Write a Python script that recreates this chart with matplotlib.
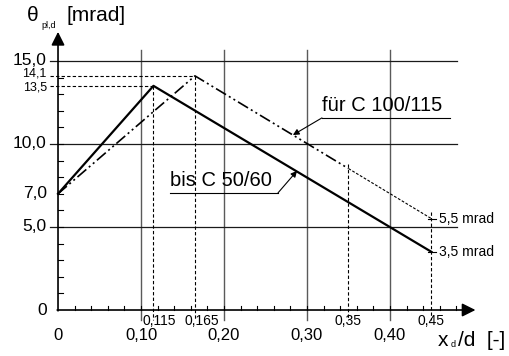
import numpy as np
import matplotlib.pyplot as plt

plt.rcParams['font.family'] = ['Liberation Sans', 'DejaVu Sans']

# data: rotation capacity theta_pl,d over x_d/d
x_c50 = [0.0, 0.115, 0.45]
y_c50 = [7.0, 13.5, 3.5]
x_c100 = [0.0, 0.165, 0.45]
y_c100 = [7.0, 14.1, 5.5]
x_split = 0.35  # dash-dot ends here, thin dashed afterwards

x_grid = [0.10, 0.20, 0.30, 0.40]
y_grid = [5.0, 10.0, 15.0]
x_major_labels = ["0", "0,10", "0,20", "0,30", "0,40"]
y_labels = {15.0: "15,0", 10.0: "10,0", 7.0: "7,0", 5.0: "5,0", 0.0: "0"}
y_small_labels = {14.1: "14,1", 13.5: "13,5"}


def main():
    fig = plt.figure(figsize=(5.10, 3.56), dpi=100)
    ax = fig.add_axes([0, 0, 1, 1])
    ax.set_xlim(-0.0699, 0.5446)
    ax.set_ylim(-2.77, 18.67)
    ax.axis("off")

    # grid
    for xv in x_grid:
        ax.plot([xv, xv], [-0.6, 15.66], color="#5a5a5a", lw=1.0)
    for yv in y_grid:
        ax.plot([-0.0096, 0.481], [yv, yv], color="#1a1a1a", lw=0.9)

    # minor ticks
    for yv in range(1, 15):
        ax.plot([0, 0.006], [yv, yv], color="k", lw=0.8)
    for xv in np.arange(0.02, 0.49, 0.02):
        ax.plot([xv, xv], [0, 0.25], color="k", lw=0.8)

    # axes with arrows
    ax.annotate("", xy=(0, 16.75), xytext=(0, -0.05),
                arrowprops=dict(arrowstyle="-|>", mutation_scale=20, lw=1.2,
                                color="k", shrinkA=0, shrinkB=0))
    ax.annotate("", xy=(0.503, 0), xytext=(-0.001, 0),
                arrowprops=dict(arrowstyle="-|>", mutation_scale=20, lw=1.2,
                                color="k", shrinkA=0, shrinkB=0))

    # helper lines (dashed)
    dash = dict(color="k", lw=0.8, ls=(0, (3, 2)))
    ax.plot([-0.0096, x_c100[1]], [y_c100[1], y_c100[1]], **dash)
    ax.plot([-0.0096, x_c50[1]], [y_c50[1], y_c50[1]], **dash)
    ax.plot([x_c50[1], x_c50[1]], [y_c50[1], -0.6], **dash)
    ax.plot([x_c100[1], x_c100[1]], [y_c100[1], -0.6], **dash)
    y_split = np.interp(x_split, x_c100, y_c100)
    ax.plot([x_split, x_split], [y_split + 0.3, -0.6], **dash)
    ax.plot([0.45, 0.45], [5.9, -0.6], **dash)

    # curves
    ax.plot(x_c50, y_c50, color="k", lw=1.6)
    ax.plot([x_c100[0], x_c100[1], x_split], [y_c100[0], y_c100[1], y_split],
            color="k", lw=1.2, ls=(0, (7, 2, 1.2, 2, 1.2, 2)))
    ax.plot([x_split, x_c100[2]], [y_split, y_c100[2]],
            color="k", lw=0.8, ls=(0, (2.5, 1.5)))

    # end markers + labels
    for yv, lab in [(5.5, "5,5 mrad"), (3.5, "3,5 mrad")]:
        ax.plot([0.4458, 0.4555], [yv, yv], color="k", lw=0.8)
        ax.text(0.4585, yv, lab, fontsize=10, ha="left", va="center")

    # y labels
    for yv, lab in y_labels.items():
        ax.text(-0.0135, yv, lab, fontsize=12.5, ha="right", va="center")
    ax.text(-0.0135, 14.25, y_small_labels[14.1], fontsize=9, ha="right",
            va="center")
    ax.text(-0.0135, 13.4, y_small_labels[13.5], fontsize=9, ha="right",
            va="center")

    # x labels
    for xv, lab in zip([0.0] + x_grid, x_major_labels):
        ax.text(xv, -1.55, lab, fontsize=12, ha="center", va="center")
    ax.text(0.115 - 0.0135, -0.65, "0,115", fontsize=10, ha="left", va="center")
    ax.text(0.165 - 0.0125, -0.65, "0,165", fontsize=10, ha="left", va="center")
    ax.text(0.35, -0.65, "0,35", fontsize=10, ha="center", va="center")
    ax.text(0.45, -0.65, "0,45", fontsize=10, ha="center", va="center")

    # axis titles
    ax.text(0.458, -2.15, "x", fontsize=15, ha="left", va="baseline")
    ax.text(0.4735, -2.25, "d", fontsize=6.5, ha="left", va="baseline")
    ax.text(0.4815, -2.15, "/d  [-]", fontsize=15, ha="left", va="baseline")
    ax.text(-0.0375, 17.4, "θ", fontsize=15, ha="left", va="baseline")
    ax.text(-0.0195, 17.0, "pl,d", fontsize=6.5, ha="left", va="baseline")
    ax.text(0.0105, 17.4, "[mrad]", fontsize=15, ha="left", va="baseline")

    # annotations
    ax.text(0.318, 11.75, "für C 100/115", fontsize=14.5, ha="left",
            va="bottom")
    ax.plot([0.318, 0.472], [11.57, 11.57], color="k", lw=0.8)
    ax.annotate("", xy=(0.283, 10.54), xytext=(0.318, 11.57),
                arrowprops=dict(arrowstyle="-|>", mutation_scale=9, lw=0.8,
                                color="k", shrinkA=0, shrinkB=0))

    ax.text(0.135, 7.2, "bis C 50/60", fontsize=14.5, ha="left", va="bottom")
    ax.plot([0.135, 0.265], [7.05, 7.05], color="k", lw=0.8)
    ax.annotate("", xy=(0.288, 8.38), xytext=(0.265, 7.05),
                arrowprops=dict(arrowstyle="-|>", mutation_scale=9, lw=0.8,
                                color="k", shrinkA=0, shrinkB=0))

    fig.savefig("out.png", dpi=100)
    plt.close(fig)


if __name__ == "__main__":
    main()
